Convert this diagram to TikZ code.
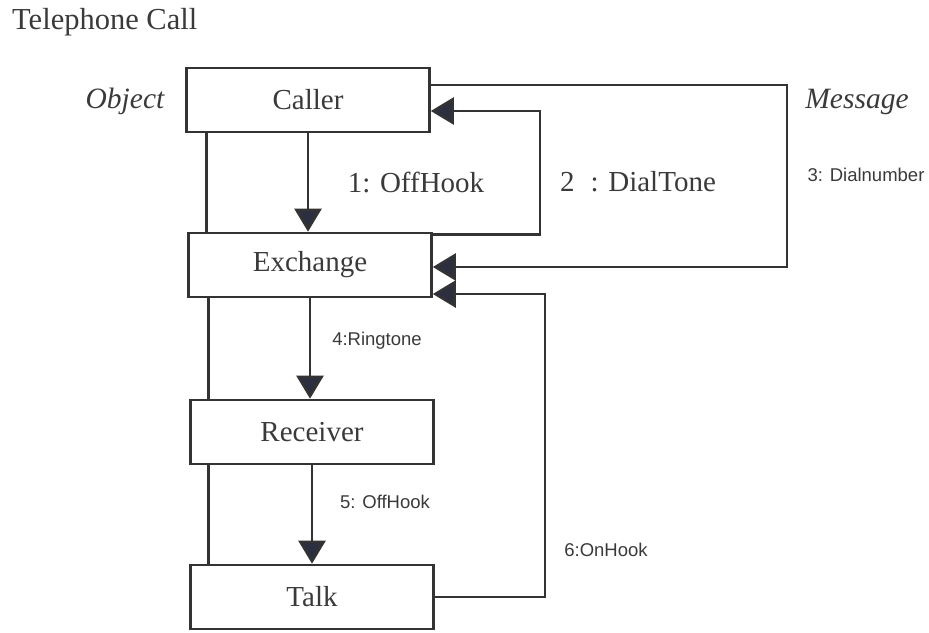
\documentclass[tikz,border=0pt]{standalone}
\usepackage{fontspec}
\setmainfont{Liberation Serif}
\newfontfamily\msgfont{Liberation Sans}
\usetikzlibrary{arrows.meta}
\definecolor{inkgray}{HTML}{3A3A3A}
\definecolor{linegray}{HTML}{333333}
\definecolor{headnavy}{HTML}{2C2F40}

\begin{document}
\begin{tikzpicture}[
  x=1pt,
  y=-1pt,
  font=\fontsize{29}{34}\selectfont,
  text=inkgray,
  obj/.style={draw=linegray, line width=2.6pt, fill=white,
    minimum width=243pt, minimum height=64pt, inner sep=0pt},
  life/.style={draw=linegray, line width=2.6pt},
  msg/.style={draw=linegray, line width=2.6pt,
    -{Triangle[length=23pt, width=27pt, fill=headnavy]}},
  serif/.style={inner sep=0pt},
  sanslabel/.style={inner sep=0pt, font=\msgfont\fontsize{18.5}{22}\selectfont},
  tag/.style={inner sep=0pt, font=\fontsize{29.5}{34}\selectfont\itshape}
]
  \useasboundingbox (0,0) rectangle (929,632);

  \node[serif, anchor=west, font=\fontsize{30.5}{36}\selectfont] (title) at (12,22) {Telephone Call};
  \node[tag] (objtag) at (125,101) {Object};
  \node[tag] (msgtag) at (857,102) {Message};

  \node[obj] (caller) at (308,100) {Caller};
  \node[obj] (exchange) at (310,265) {Exchange};
  \node[obj] (receiver) at (312,432) {Receiver};
  \node[obj] (talk) at (312,597) {Talk};

  % lifeline on the left
  \draw[life] ([xshift=21pt]caller.south west) -- ([xshift=21pt]caller.south west |- exchange.north);
  \draw[life] ([xshift=21pt]exchange.south west) -- ([xshift=21pt]exchange.south west |- receiver.north);
  \draw[life] ([xshift=19pt]receiver.south west) -- ([xshift=19pt]receiver.south west |- talk.north);

  % messages
  \draw[msg] (caller.south) -- (caller.south |- exchange.north);
  \node[serif] (m1) at (416,182) {1: OffHook};
  \draw[msg] ([yshift=-3pt]exchange.north east) -- ++(107,0) |- ([yshift=-11pt]caller.east);
  \node[serif] (m2) at (638,182) {2\hspace{0.55em}: DialTone};
  \draw[msg] ([yshift=15pt]caller.east) -- ++(356,0) |- ([yshift=-2pt]exchange.east);
  \node[sanslabel] (m3) at (866,175) {3: Dialnumber};
  \draw[msg] (exchange.south) -- (exchange.south |- receiver.north);
  \node[sanslabel] (m4) at (377,341) {4:Ringtone};
  \draw[msg] (receiver.south) -- (receiver.south |- talk.north);
  \node[sanslabel] (m5) at (385,502) {5: OffHook};
  \draw[msg] (talk.east) -- ++(110,0) |- ([yshift=-29pt]exchange.east);
  \node[sanslabel] (m6) at (606,550) {6:OnHook};
\end{tikzpicture}
\end{document}
